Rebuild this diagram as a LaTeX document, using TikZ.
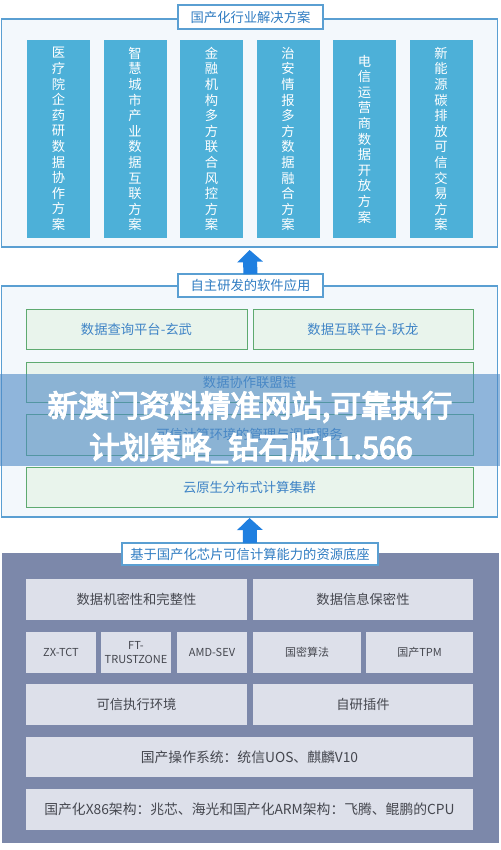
\documentclass[tikz,border=0pt]{standalone}
\usepackage{fontspec}
\setmainfont{Noto Sans CJK SC}
\newfontfamily\wmfont[AutoFakeBold=4]{Noto Sans CJK SC}
\usetikzlibrary{arrows.meta}
\definecolor{panelbd}{HTML}{5A9FD2}
\definecolor{panelbg}{HTML}{F3F8FC}
\definecolor{colfill}{HTML}{4DB0D8}
\definecolor{titleblue}{HTML}{2F7CC2}
\definecolor{arrowblue}{HTML}{1F7FE0}
\definecolor{greenbg}{HTML}{E9F4EC}
\definecolor{greenbd}{HTML}{5EAA70}
\definecolor{greentext}{HTML}{3F84C6}
\definecolor{slate}{HTML}{7C88AA}
\definecolor{greybox}{HTML}{DDE0EA}
\definecolor{greytext}{HTML}{45474F}
\definecolor{wmband}{HTML}{4D89C5}
\tikzset{
  panel/.style={draw=panelbd, line width=1.2pt, fill=panelbg, inner sep=0pt, outer sep=0pt},
  basepanel/.style={fill=slate, inner sep=0pt, outer sep=0pt},
  titlebox/.style={draw=panelbd, line width=1.2pt, fill=white, text=titleblue, font=\fontsize{13.3}{15}\selectfont, inner sep=0pt, outer sep=0pt},
  colbox/.style={fill=colfill, text=white, minimum width=63pt, minimum height=198pt, inner sep=0pt, outer sep=0pt, align=center, font=\fontsize{13.3}{15.6}\selectfont},
  greenbox/.style={draw=greenbd, line width=0.9pt, fill=greenbg, text=greentext, minimum height=40pt, inner sep=0pt, outer sep=0pt, font=\fontsize{13.3}{15}\selectfont},
  greybox/.style={fill=greybox, text=greytext, minimum height=41pt, inner sep=0pt, outer sep=0pt, align=center, font=\fontsize{13.3}{15}\selectfont},
  widegrey/.style={greybox, font=\fontsize{13.8}{15}\selectfont},
  smallgrey/.style={greybox, font=\fontsize{11}{13.5}\selectfont},
  bigarrow/.style={arrowblue, line width=14pt, -{Triangle[width=25pt,length=12pt]}},
  wmtext/.style={text=white, font=\wmfont\bfseries\fontsize{30.5}{34}\selectfont, inner sep=0pt}
}
\begin{document}
\begin{tikzpicture}[x=1pt,y=-1pt]
\useasboundingbox (0,0) rectangle (500,850);
\fill[white] (0,0) rectangle (500,850);

% ---------- top panel ----------
\node[panel, minimum width=496pt, minimum height=228pt] (top) at (249.5,133) {};
\node[titlebox, minimum width=145pt, minimum height=24pt] (t1) at (250.5,17) {国产化行业解决方案};
\node[colbox] (c1) at (58.5,139) {医\\疗\\院\\企\\药\\研\\数\\据\\协\\作\\方\\案};
\node[colbox] (c2) at (135,139) {智\\慧\\城\\市\\产\\业\\数\\据\\互\\联\\方\\案};
\node[colbox] (c3) at (211.5,139) {金\\融\\机\\构\\多\\方\\联\\合\\风\\控\\方\\案};
\node[colbox] (c4) at (288,139) {治\\安\\情\\报\\多\\方\\数\\据\\融\\合\\方\\案};
\node[colbox] (c5) at (364.5,139) {电\\信\\运\\营\\商\\数\\据\\开\\放\\方\\案};
\node[colbox] (c6) at (441,139) {新\\能\\源\\碳\\排\\放\\可\\信\\交\\易\\方\\案};

% ---------- middle panel ----------
\node[panel, minimum width=496pt, minimum height=231pt] (mid) at (249.5,401.5) {};
\node[titlebox, minimum width=145pt, minimum height=23pt] (t2) at (250.5,285.5) {自主研发的软件应用};
\node[greenbox, minimum width=221pt] (g1) at (136.5,329) {数据查询平台-玄武};
\node[greenbox, minimum width=220pt] (g2) at (363,329) {数据互联平台-跃龙};
\node[greenbox, minimum width=447pt] (g3) at (249.5,382) {数据协作联盟链};
\node[greenbox, minimum width=447pt, minimum height=41pt] (g4) at (249.5,434.5) {可信计算环境的管理与调度服务};
\node[greenbox, minimum width=447pt] (g5) at (249.5,487) {云原生分布式计算集群};

\draw[bigarrow, shorten >=3pt] (t2.north) -- (top.south);

% ---------- bottom panel ----------
\node[basepanel, minimum width=497pt, minimum height=290pt] (base) at (250,698) {};
\node[titlebox, minimum width=256pt, minimum height=22pt] (t3) at (250,554) {基于国产化芯片可信计算能力的资源底座};
\draw[bigarrow, shorten >=1pt] (t3.north) -- (mid.south);

\node[greybox, minimum width=221pt] (b1) at (136.5,599.5) {数据机密性和完整性};
\node[greybox, minimum width=220pt] (b2) at (363,599.5) {数据信息保密性};
\node[smallgrey, minimum width=70pt] (b3) at (61,652.5) {ZX-TCT};
\node[smallgrey, minimum width=70pt] (b4) at (136,652.5) {FT-\\TRUSTZONE};
\node[smallgrey, minimum width=70pt] (b5) at (212,652.5) {AMD-SEV};
\node[smallgrey, minimum width=108pt] (b6) at (307,652.5) {国密算法};
\node[smallgrey, minimum width=107pt] (b7) at (419.5,652.5) {国产TPM};
\node[greybox, minimum width=221pt] (b8) at (136.5,704.5) {可信执行环境};
\node[greybox, minimum width=220pt] (b9) at (363,704.5) {自研插件};
\node[widegrey, minimum width=447pt, minimum height=40pt] (b10) at (249.5,757) {国产操作系统：统信UOS、麒麟V10};
\node[widegrey, minimum width=447pt] (b11) at (249.5,809.5) {国产化X86架构：兆芯、海光和国产化ARM架构：飞腾、鲲鹏的CPU};

% ---------- watermark band ----------
\fill[wmband, fill opacity=0.6] (0,374) rectangle (500,466);
\node[wmtext] (w1) at (250,407) {新澳门资料精准网站,可靠执行};
\node[wmtext] (w2) at (251,448) {计划策略\_钻石版11.566};
\end{tikzpicture}
\end{document}
